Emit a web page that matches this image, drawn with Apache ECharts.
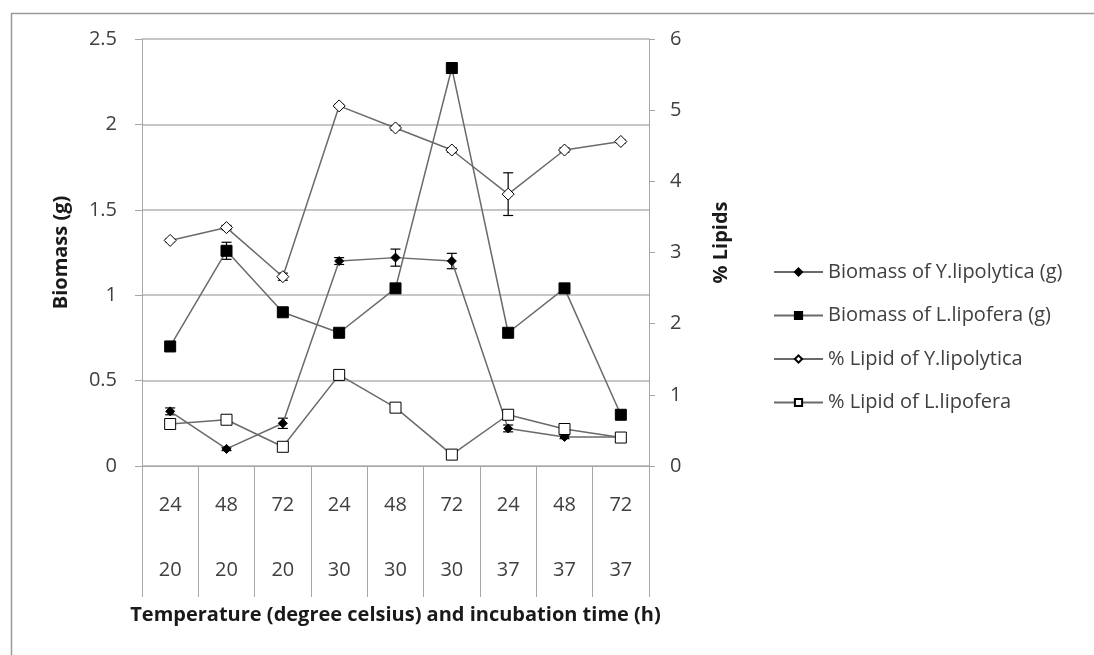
<!DOCTYPE html>
<html>
<head>
<meta charset="utf-8">
<script src="https://cdn.jsdelivr.net/npm/echarts@6/dist/echarts.min.js"></script>
<style>
  html, body { margin: 0; padding: 0; background: #fff; }
  #chart { width: 1094px; height: 655px; }
</style>
</head>
<body>
<div id="chart"></div>
<script>
// incubation time (h) and temperature (degree celsius) for each point
const hours = ["24", "48", "72", "24", "48", "72", "24", "48", "72"];
const temps = ["20", "20", "20", "30", "30", "30", "37", "37", "37"];

// biomass (g), left axis
const biomassY = [0.32, 0.10, 0.25, 1.20, 1.22, 1.20, 0.22, 0.17, 0.17];
const biomassYErr = [0.02, 0.01, 0.03, 0.02, 0.05, 0.045, 0.02, 0.01, 0.01];
const biomassL = [0.70, 1.26, 0.90, 0.78, 1.04, 2.33, 0.78, 1.04, 0.30];
const biomassLErr = [0.01, 0.05, 0.01, 0.01, 0.01, 0.03, 0.01, 0.01, 0.01];

// % lipids, right axis
const lipidY = [3.17, 3.35, 2.66, 5.06, 4.75, 4.44, 3.82, 4.44, 4.56];
const lipidYErr = [0.02, 0.03, 0.05, 0.02, 0.03, 0.03, 0.30, 0.03, 0.02];
const lipidL = [0.59, 0.65, 0.27, 1.28, 0.82, 0.16, 0.72, 0.52, 0.40];
const lipidLErr = [0.02, 0.02, 0.02, 0.03, 0.02, 0.02, 0.03, 0.02, 0.02];

const names = [
  "Biomass of Y.lipolytica (g)",
  "Biomass of L.lipofera (g)",
  "% Lipid of Y.lipolytica",
  "% Lipid of L.lipofera",
];

const font = "Open Sans";
const fs = 20;
const lineColor = "#6a6a6a";

function lineSeries(name, data, yIdx, symbol, size, fill) {
  return {
    name: name,
    type: "line",
    yAxisIndex: yIdx,
    data: data,
    symbol: symbol,
    symbolSize: size,
    z: 3,
    lineStyle: { color: lineColor, width: 1.5 },
    itemStyle: { color: fill, borderColor: "#000", borderWidth: 1 },
  };
}

function errorSeries(vals, errs, yIdx) {
  return {
    type: "custom",
    yAxisIndex: yIdx,
    silent: true,
    z: 2,
    data: vals.map((v, i) => [i, v - errs[i], v + errs[i]]),
    encode: { x: 0, y: [1, 2] },
    renderItem: (params, api) => {
      const lo = api.coord([api.value(0), api.value(1)]);
      const hi = api.coord([api.value(0), api.value(2)]);
      const x = lo[0];
      const w = 5;
      const st = { stroke: "#000", lineWidth: 1.2 };
      return {
        type: "group",
        children: [
          { type: "line", shape: { x1: x, y1: lo[1], x2: x, y2: hi[1] }, style: st },
          { type: "line", shape: { x1: x - w, y1: lo[1], x2: x + w, y2: lo[1] }, style: st },
          { type: "line", shape: { x1: x - w, y1: hi[1], x2: x + w, y2: hi[1] }, style: st },
        ],
      };
    },
  };
}

const chart = echarts.init(document.getElementById("chart"));
const option = {
  backgroundColor: "#fff",
  animation: false,
  textStyle: { fontFamily: font },
  graphic: [
    {
      type: "rect",
      left: 9,
      top: 11,
      shape: { width: 1200, height: 800 },
      style: { fill: "none", stroke: "#9a9a9a", lineWidth: 1.5 },
      silent: true,
    },
  ],
  grid: { left: 142, top: 39, right: 445, bottom: 189 },
  legend: {
    data: names,
    orient: "vertical",
    left: 768,
    top: 257,
    itemWidth: 49,
    itemHeight: 9,
    itemGap: 23.5,
    textStyle: { fontFamily: font, fontSize: fs, color: "#404040" },
  },
  xAxis: [
    {
      type: "category",
      data: hours,
      position: "bottom",
      boundaryGap: true,
      name: "Temperature (degree celsius) and incubation time (h)",
      nameLocation: "middle",
      nameGap: 139,
      nameTextStyle: { fontFamily: font, fontSize: fs, fontWeight: "bold", color: "#1a1a1a" },
      axisLine: { show: true, lineStyle: { color: "#a6a6a6", width: 1 } },
      axisTick: { show: true, length: 131, lineStyle: { color: "#a6a6a6" } },
      axisLabel: { margin: 29, fontFamily: font, fontSize: fs, color: "#404040" },
      splitLine: { show: false },
    },
    {
      type: "category",
      data: temps,
      position: "bottom",
      boundaryGap: true,
      axisLine: { show: false },
      axisTick: { show: false },
      axisLabel: { margin: 94, fontFamily: font, fontSize: fs, color: "#404040" },
      splitLine: { show: false },
    },
  ],
  yAxis: [
    {
      type: "value",
      min: 0,
      max: 2.5,
      interval: 0.5,
      position: "left",
      name: "Biomass (g)",
      nameLocation: "middle",
      nameGap: 71,
      nameTextStyle: { fontFamily: font, fontSize: fs, fontWeight: "bold", color: "#1a1a1a" },
      axisLine: { show: true, lineStyle: { color: "#a6a6a6" } },
      axisTick: { show: true, length: 7, lineStyle: { color: "#a6a6a6" } },
      axisLabel: { margin: 25, fontFamily: font, fontSize: fs, color: "#404040" },
      splitLine: { show: true, lineStyle: { color: "#b3b3b3", width: 1.5 } },
    },
    {
      type: "value",
      min: 0,
      max: 6,
      interval: 1,
      position: "right",
      name: "% Lipids",
      nameLocation: "middle",
      nameRotate: 90,
      nameGap: 62,
      nameTextStyle: { fontFamily: font, fontSize: fs, fontWeight: "bold", color: "#1a1a1a", padding: [0, 0, 0, 20] },
      axisLine: { show: true, lineStyle: { color: "#a6a6a6" } },
      axisTick: { show: true, length: 6, lineStyle: { color: "#a6a6a6" } },
      axisLabel: { margin: 21, fontFamily: font, fontSize: fs, color: "#404040" },
      splitLine: { show: false },
    },
  ],
  series: [
    errorSeries(biomassY, biomassYErr, 0),
    errorSeries(biomassL, biomassLErr, 0),
    errorSeries(lipidY, lipidYErr, 1),
    errorSeries(lipidL, lipidLErr, 1),
    lineSeries(names[0], biomassY, 0, "diamond", 9, "#000"),
    lineSeries(names[1], biomassL, 0, "rect", 11, "#000"),
    lineSeries(names[2], lipidY, 1, "diamond", 12, "#fff"),
    lineSeries(names[3], lipidL, 1, "rect", 11, "#fff"),
  ],
};
chart.setOption(option);
</script>
</body>
</html>
